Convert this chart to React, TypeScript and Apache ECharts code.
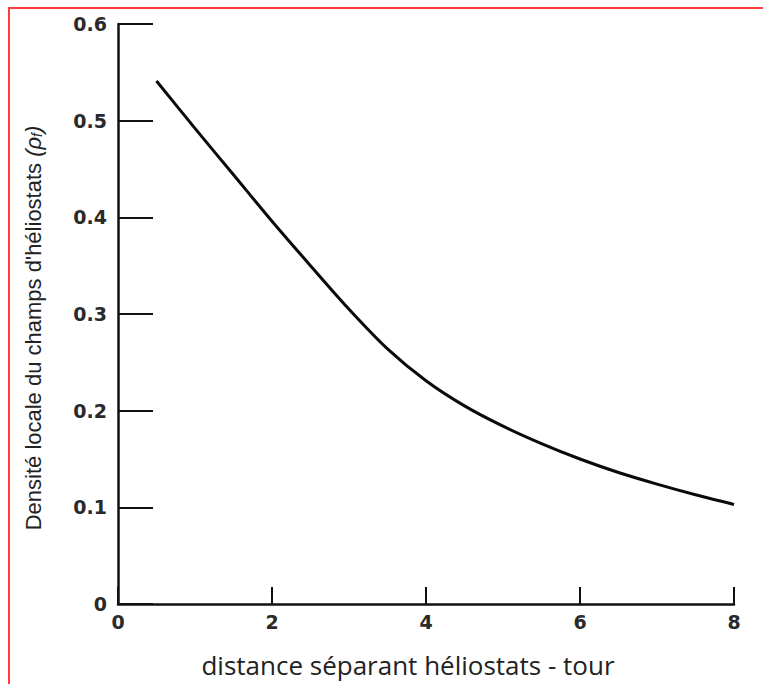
import React, { useEffect, useRef } from "react";
import * as echarts from "echarts";

const xValues = [0.5, 1, 1.5, 2, 2.5, 3, 3.5, 4, 4.5, 5, 5.5, 6, 6.5, 7, 7.5, 8];
const yValues = [0.541, 0.492, 0.444, 0.396, 0.35, 0.305, 0.264, 0.231, 0.205, 0.184, 0.166, 0.15, 0.136, 0.124, 0.113, 0.103];

const xAxisName = "distance séparant héliostats - tour";
const yAxisName = "Densité locale du champs d'héliostats ";

export default function App() {
  const ref = useRef<HTMLDivElement>(null);
  useEffect(() => {
    if (!ref.current) return;
    const chart = echarts.init(ref.current, null, { renderer: "svg" });
    const data = xValues.map((x, i) => [x, yValues[i]]);
    const nameFont = "Liberation Sans";
    chart.setOption({
      animation: false,
      backgroundColor: "transparent",
      grid: { left: 118, right: 29, top: 24, bottom: 80 },
      xAxis: {
        type: "value",
        min: 0,
        max: 8,
        interval: 2,
        name: xAxisName,
        nameLocation: "middle",
        nameGap: 48,
        nameTextStyle: {
          fontFamily: "Open Sans",
          fontSize: 26,
          color: "#222",
          padding: [0, 36, 0, 0],
        },
        axisLine: { show: true, onZero: false, lineStyle: { color: "#111", width: 2.5 } },
        axisTick: { show: true, inside: true, length: 17, lineStyle: { color: "#111", width: 2 } },
        axisLabel: { fontFamily: "DejaVu Sans", fontSize: 19, fontWeight: "bold", color: "#2a2a2a", margin: 8 },
        splitLine: { show: false },
      },
      yAxis: {
        type: "value",
        min: 0,
        max: 0.6,
        interval: 0.1,
        name: yAxisName + "{r|(ρ}{s|f}{r|)}",
        nameLocation: "middle",
        nameGap: 74,
        nameRotate: 90,
        nameTextStyle: {
          fontFamily: nameFont,
          fontSize: 22,
          color: "#222",
          padding: [0, 28, 0, 0],
          rich: {
            r: { fontFamily: nameFont, fontSize: 22, color: "#222", fontStyle: "italic" },
            s: { fontFamily: nameFont, fontSize: 14, color: "#222", fontStyle: "italic", verticalAlign: "bottom", padding: [8, 0, 0, 0] },
          },
        },
        axisLine: { show: true, onZero: false, lineStyle: { color: "#111", width: 2.5 } },
        axisTick: { show: true, inside: true, length: 35, lineStyle: { color: "#111", width: 2 } },
        axisLabel: { fontFamily: "DejaVu Sans", fontSize: 19, fontWeight: "bold", color: "#2a2a2a", margin: 11 },
        splitLine: { show: false },
      },
      series: [
        {
          type: "line",
          data,
          smooth: 0.3,
          symbol: "none",
          lineStyle: { color: "#0a0a0a", width: 3 },
        },
      ],
    });
    return () => chart.dispose();
  }, []);
  return (
    <div style={{ position: "fixed", left: 0, top: 0, width: 763, height: 684, background: "#fff", overflow: "hidden" }}>
      <div style={{ position: "absolute", left: 9, top: 7, right: 0, height: 2, background: "#ff3b3b" }} />
      <div style={{ position: "absolute", left: 8, top: 7, bottom: 0, width: 2, background: "#ff3b3b" }} />
      <div ref={ref} style={{ position: "absolute", left: 0, top: 0, width: 763, height: 684 }} />
    </div>
  );
}
